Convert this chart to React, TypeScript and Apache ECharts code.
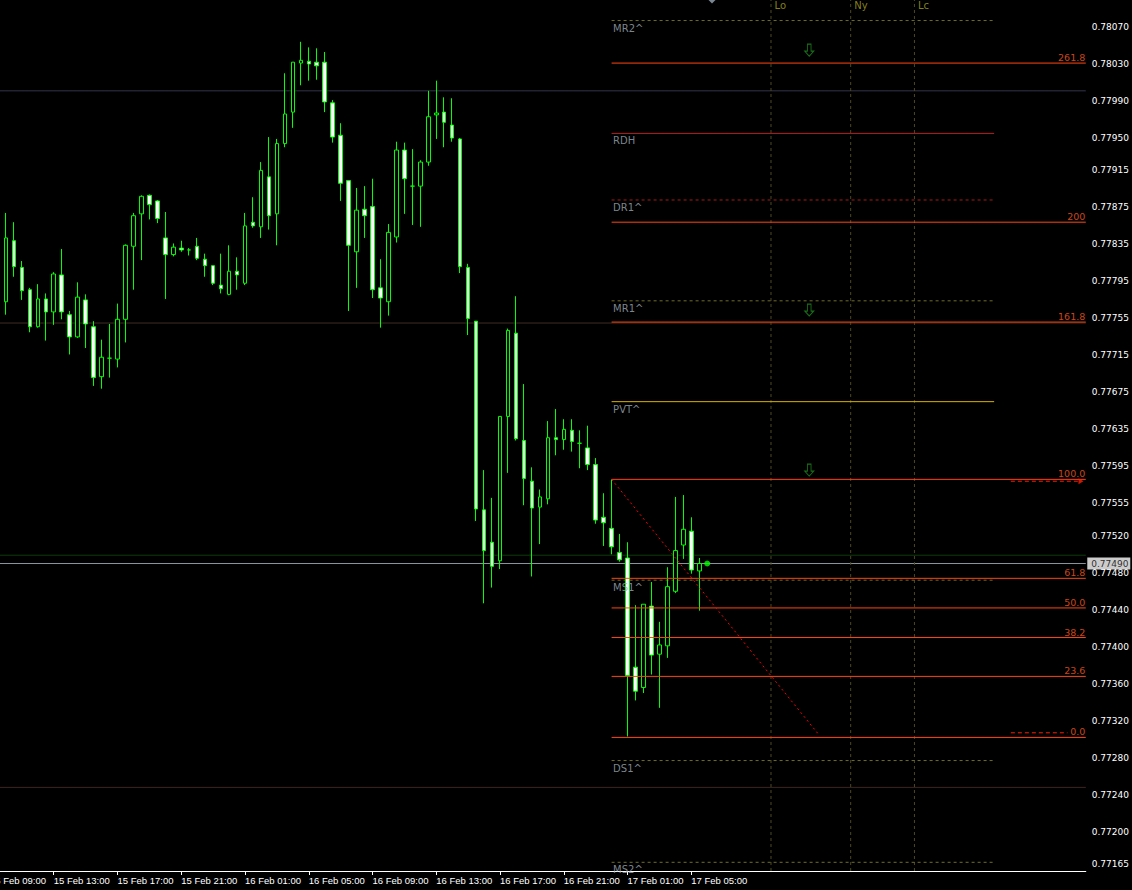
import React, { useEffect, useRef } from "react";
import * as echarts from "echarts";

// ---------- data ----------
const OPEN = [
  0.77773, 0.77839, 0.7781, 0.77786, 0.77746, 0.77776, 0.77762, 0.77802, 0.77759, 0.77735,
  0.77775, 0.77746, 0.77692, 0.77712, 0.77711, 0.77754, 0.77833, 0.77868, 0.77888, 0.77882,
  0.77842, 0.77824, 0.77831, 0.77829, 0.77833, 0.77819, 0.77812, 0.77791, 0.77781, 0.77806,
  0.77793, 0.77859, 0.77854, 0.77908, 0.77868, 0.77944, 0.77978, 0.78031, 0.78033, 0.78032,
  0.78032, 0.77988, 0.77953, 0.77904, 0.77827, 0.77873, 0.77876, 0.77788, 0.77773, 0.77843,
  0.77937, 0.77898, 0.77898, 0.77924, 0.77975, 0.77978, 0.77964, 0.77949, 0.7781, 0.77752,
  0.77548, 0.77513, 0.77493, 0.77649, 0.77739, 0.77623, 0.77579, 0.77551, 0.7756, 0.77626,
  0.77624, 0.77634, 0.7762, 0.77615, 0.77597, 0.7754, 0.77528, 0.77502, 0.77496, 0.77378,
  0.77356, 0.77444, 0.77392, 0.77401, 0.7746, 0.7751, 0.77525, 0.77482,
];
const CLOSE = [
  0.77842, 0.77811, 0.77785, 0.77746, 0.77776, 0.77762, 0.77803, 0.77762, 0.77735, 0.77778,
  0.77749, 0.77691, 0.77713, 0.77712, 0.77754, 0.77834, 0.77866, 0.77887, 0.77878, 0.77863,
  0.77824, 0.77832, 0.77829, 0.77829, 0.7782, 0.77812, 0.77793, 0.77787, 0.77806, 0.77802,
  0.77855, 0.77855, 0.77915, 0.77866, 0.77944, 0.77976, 0.78032, 0.78034, 0.7803, 0.78028,
  0.77989, 0.77951, 0.77901, 0.77834, 0.77872, 0.77866, 0.77786, 0.77777, 0.77848, 0.77937,
  0.77906, 0.77898, 0.77924, 0.77973, 0.77977, 0.77967, 0.7795, 0.77811, 0.77755, 0.77549,
  0.77504, 0.77487, 0.77649, 0.77742, 0.77625, 0.77582, 0.7755, 0.77562, 0.77626, 0.77624,
  0.77635, 0.77622, 0.7762, 0.77597, 0.77537, 0.77534, 0.77508, 0.77494, 0.77369, 0.77352,
  0.77446, 0.77391, 0.77402, 0.77465, 0.77504, 0.77527, 0.77483, 0.7749,
];
const LOW = [
  0.77759, 0.778, 0.77775, 0.7774, 0.77745, 0.77731, 0.77748, 0.77754, 0.77716, 0.77734,
  0.77723, 0.77682, 0.77679, 0.77691, 0.77702, 0.77729, 0.77786, 0.77818, 0.77862, 0.77858,
  0.77776, 0.77822, 0.77827, 0.77823, 0.77818, 0.778, 0.77791, 0.77782, 0.7778, 0.77786,
  0.77791, 0.77853, 0.77842, 0.77851, 0.77834, 0.7794, 0.77961, 0.78007, 0.78012, 0.78013,
  0.77978, 0.77945, 0.77882, 0.77763, 0.77788, 0.77842, 0.77777, 0.77745, 0.77758, 0.77837,
  0.77868, 0.77856, 0.77854, 0.7792, 0.77949, 0.7794, 0.77946, 0.77804, 0.77737, 0.77536,
  0.77447, 0.77464, 0.77484, 0.77588, 0.77623, 0.77553, 0.77476, 0.77511, 0.77554, 0.77607,
  0.77613, 0.77611, 0.77593, 0.77591, 0.77533, 0.77509, 0.775, 0.77492, 0.77303, 0.77342,
  0.7735, 0.7737, 0.77334, 0.77388, 0.77458, 0.77495, 0.77479, 0.77439,
];
const HIGH = [
  0.77869, 0.77859, 0.77817, 0.77788, 0.77792, 0.77782, 0.77805, 0.7783, 0.77763, 0.77794,
  0.77781, 0.77752, 0.77732, 0.77749, 0.77771, 0.77835, 0.77869, 0.77888, 0.77889, 0.77883,
  0.7787, 0.77836, 0.77839, 0.77831, 0.77842, 0.77825, 0.77812, 0.77825, 0.77834, 0.77821,
  0.77869, 0.77886, 0.77924, 0.77951, 0.77949, 0.7802, 0.78032, 0.78054, 0.78048, 0.78047,
  0.78043, 0.77991, 0.77966, 0.77904, 0.77896, 0.77898, 0.77906, 0.77819, 0.77857, 0.77946,
  0.77945, 0.77938, 0.77926, 0.78001, 0.78012, 0.77994, 0.77993, 0.7795, 0.77814, 0.77752,
  0.77591, 0.77561, 0.77649, 0.77744, 0.77779, 0.77684, 0.77594, 0.7757, 0.77644, 0.77657,
  0.77646, 0.77646, 0.77634, 0.77639, 0.77604, 0.77566, 0.77581, 0.77522, 0.77513, 0.77445,
  0.77446, 0.7747, 0.77427, 0.77486, 0.77562, 0.77564, 0.7754, 0.77496,
];

const X_TICK_LABELS = [
  "15 Feb 09:00", "15 Feb 13:00", "15 Feb 17:00", "15 Feb 21:00",
  "16 Feb 01:00", "16 Feb 05:00", "16 Feb 09:00", "16 Feb 13:00",
  "16 Feb 17:00", "16 Feb 21:00", "17 Feb 01:00", "17 Feb 05:00",
];
const Y_TICK_VALUES = [
  0.7807, 0.7803, 0.7799, 0.7795, 0.77915, 0.77875, 0.77835, 0.77795, 0.77755, 0.77715,
  0.77675, 0.77635, 0.77595, 0.77555, 0.7752, 0.7748, 0.7744, 0.774, 0.7736, 0.7732,
  0.7728, 0.7724, 0.772, 0.77165,
];
const Y_MIN = 0.771576;
const Y_MAX = 0.780992;
const CURRENT_PRICE = 0.7749;

// full-width horizontal levels
const LEVEL_PRICES = [0.78001, 0.7775, 0.77499, 0.7749, 0.77248];
// pivot levels
const PIVOT_NAMES = ["MR2^", "RDH", "DR1^", "MR1^", "PVT^", "MS1^", "DS1^", "MS2^"];
const PIVOT_PRICES = [0.78077, 0.77955, 0.77883, 0.77774, 0.77665, 0.77472, 0.77277, 0.77167];
// fibonacci levels
const FIB_LABELS = ["261.8", "200", "161.8", "100.0", "61.8", "50.0", "38.2", "23.6", "0.0"];
const FIB_PRICES = [0.78031, 0.77859, 0.77751, 0.77581, 0.77474, 0.77442, 0.7741, 0.77368, 0.77302];
const FIB_TREND = [0.77581, 0.77305];
const FIB_MARKS = [0.77579, 0.77307];
// sessions
const SESSION_NAMES = ["Lo", "Ny", "Lc"];
// signal arrows
const ARROW_PRICES = [0.78045, 0.77764, 0.77591];

// ---------- layout / style (not data) ----------
const SHIFT = 14;
const SLOT_COUNT = 138;
const LEAD_EMPTY = 2;
const PIVOT_START = 78.5;
const PIVOT_END = 126.5;
const SESSION_SLOTS = [98.5, 108.5, 116.5];
const ARROW_SLOT = 103.3;
const TREND_END = 104.5;
const MARK_START = 128.6;
const MARK_ENDS = [137.4, 135.7];
const DOT_SLOT = 90.5;
const DIAMOND_SLOT = 91.1;

const LEVEL_COLORS = ["#33334a", "#3e2c24", "#0e3c0e", "#8a96a0", "#3c2622"];
const PIVOT_STYLES = [
  { color: "#6e6e2a", type: [3, 3] },
  { color: "#b42222", type: "solid" },
  { color: "#a81a1a", type: [3, 3] },
  { color: "#6e6e2a", type: [3, 3] },
  { color: "#d8b000", type: "solid" },
  { color: "#6e6e2a", type: [3, 3] },
  { color: "#6e6e2a", type: [3, 3] },
  { color: "#6e6e2a", type: [3, 3] },
];
const FIB_COLOR = "#ff4510";
const FONT = "DejaVu Sans";

function makeCategories(): string[] {
  const out: string[] = [];
  for (let c = 0; c < SLOT_COUNT; c++) {
    const total = 9 * 60 + c * 30;
    const day = 15 + Math.floor(total / 1440);
    const mins = total % 1440;
    const hh = String(Math.floor(mins / 60)).padStart(2, "0");
    const mm = String(mins % 60).padStart(2, "0");
    out.push(`${day} Feb ${hh}:${mm}`);
  }
  return out;
}

export default function App() {
  const ref = useRef<HTMLDivElement>(null);
  useEffect(() => {
    document.body.style.margin = "0";
    document.body.style.background = "#000";
    document.body.style.overflow = "hidden";
    if (!ref.current) return;
    const chart = echarts.init(ref.current, undefined, { renderer: "svg" });
    const categories = makeCategories();
    const candleData: any[] = [];
    for (let i = 0; i < LEAD_EMPTY; i++) candleData.push("-");
    OPEN.forEach((o, i) => candleData.push([o, CLOSE[i], LOW[i], HIGH[i]]));

    const series: any[] = [];

    // full-width background lines
    LEVEL_PRICES.forEach((p, i) => {
      series.push({
        type: "line", xAxisIndex: 1, yAxisIndex: 0, z: 1, silent: true,
        symbol: "none", data: [[0, p], [SLOT_COUNT, p]],
        lineStyle: { color: LEVEL_COLORS[i], width: 1 },
      });
    });
    // session vertical lines
    SESSION_SLOTS.forEach((s) => {
      series.push({
        type: "line", xAxisIndex: 1, yAxisIndex: 0, z: 1, silent: true,
        symbol: "none", data: [[s, Y_MIN], [s, Y_MAX]],
        lineStyle: { color: "#4a4a22", width: 1, type: [3, 3] },
      });
    });
    // candles
    series.push({
      type: "candlestick", xAxisIndex: 0, yAxisIndex: 0, z: 3,
      barWidth: 4, data: candleData,
      itemStyle: {
        color: "#000000", color0: "#ffffff",
        borderColor: "#00ff00", borderColor0: "#00ff00", borderWidth: 1,
      },
    });
    // pivot segments
    PIVOT_PRICES.forEach((p, i) => {
      series.push({
        type: "line", xAxisIndex: 1, yAxisIndex: 0, z: 2, silent: true,
        symbol: "none", data: [[PIVOT_START, p], [PIVOT_END, p]],
        lineStyle: { color: PIVOT_STYLES[i].color, width: 1, type: PIVOT_STYLES[i].type },
      });
    });
    // fib levels
    FIB_PRICES.forEach((p) => {
      series.push({
        type: "line", xAxisIndex: 1, yAxisIndex: 0, z: 4, silent: true,
        symbol: "none", data: [[PIVOT_START, p], [SLOT_COUNT, p]],
        lineStyle: { color: FIB_COLOR, width: 1 },
      });
    });
    // fib trendline
    series.push({
      type: "line", xAxisIndex: 1, yAxisIndex: 0, z: 4, silent: true,
      symbol: "none", data: [[PIVOT_START, FIB_TREND[0]], [TREND_END, FIB_TREND[1]]],
      lineStyle: { color: "#ff0000", width: 1, type: [2, 3] },
    });
    // fib marks at right
    FIB_MARKS.forEach((p, i) => {
      series.push({
        type: "line", xAxisIndex: 1, yAxisIndex: 0, z: 4, silent: true,
        symbol: "none", showSymbol: false,
        data: [[MARK_START, p], [MARK_ENDS[i], p]],
        lineStyle: { color: "#ff2000", width: 1, type: [4, 3] },
      });
    });
    series.push({
      type: "scatter", xAxisIndex: 1, yAxisIndex: 0, z: 5, silent: true, clip: false,
      symbol: "triangle", symbolRotate: -90, symbolSize: [6, 5],
      itemStyle: { color: "#ff2000" },
      data: [[MARK_ENDS[0], FIB_MARKS[0]]],
    });
    // pivot labels
    series.push({
      type: "scatter", xAxisIndex: 1, yAxisIndex: 0, z: 5, silent: true, clip: false,
      symbolSize: 1, itemStyle: { color: "transparent" },
      data: PIVOT_PRICES.map((p, i) => ({ value: [PIVOT_START, p], name: PIVOT_NAMES[i] })),
      label: {
        show: true, formatter: "{b}", position: [2, 3], align: "left", verticalAlign: "top",
        color: "#9ea9b4", fontSize: 10, fontFamily: FONT,
      },
    });
    // fib labels
    series.push({
      type: "scatter", xAxisIndex: 1, yAxisIndex: 0, z: 5, silent: true, clip: false,
      symbolSize: 1, itemStyle: { color: "transparent" },
      data: FIB_PRICES.map((p, i) => ({ value: [SLOT_COUNT, p], name: FIB_LABELS[i] })),
      label: {
        show: true, formatter: "{b}", position: [0, 0], align: "right", verticalAlign: "bottom",
        color: "#ff5a20", fontSize: 9.5, fontFamily: FONT,
      },
    });
    // session labels
    series.push({
      type: "scatter", xAxisIndex: 1, yAxisIndex: 0, z: 5, silent: true, clip: false,
      symbolSize: 1, itemStyle: { color: "transparent" },
      data: SESSION_SLOTS.map((s, i) => ({ value: [s, Y_MAX], name: SESSION_NAMES[i] })),
      label: {
        show: true, formatter: "{b}", position: [4, 1], align: "left", verticalAlign: "top",
        color: "#a8a020", fontSize: 10, fontFamily: FONT,
      },
    });
    // arrows
    series.push({
      type: "scatter", xAxisIndex: 1, yAxisIndex: 0, z: 5, silent: true,
      symbol: "path://M3,0 L7,0 L7,7 L10,7 L5,12 L0,7 L3,7 Z", symbolSize: [9, 12],
      itemStyle: { color: "rgba(0,0,0,0)", borderColor: "#1e8c1e", borderWidth: 1 },
      data: ARROW_PRICES.map((p) => [ARROW_SLOT, p]),
    });
    // current price dot
    series.push({
      type: "scatter", xAxisIndex: 1, yAxisIndex: 0, z: 6, silent: true,
      symbolSize: 6, itemStyle: { color: "#00ff00" },
      data: [[DOT_SLOT, CURRENT_PRICE]],
    });
    // top diamond
    series.push({
      type: "scatter", xAxisIndex: 1, yAxisIndex: 0, z: 6, silent: true, clip: false,
      symbol: "diamond", symbolSize: 7, itemStyle: { color: "#9aa8b8" },
      data: [[DIAMOND_SLOT, Y_MAX]],
    });
    // current price label on axis
    series.push({
      type: "scatter", xAxisIndex: 1, yAxisIndex: 0, z: 10, silent: true, clip: false,
      symbolSize: 1, itemStyle: { color: "transparent" },
      data: [{ value: [SLOT_COUNT, CURRENT_PRICE], name: CURRENT_PRICE.toFixed(5) }],
      label: {
        show: true, formatter: "{b}", position: "right", distance: 1,
        backgroundColor: "#ffffff", color: "#000000", fontSize: 9, fontFamily: FONT,
        padding: [2, 4, 1, 4], width: 35,
      },
    });

    chart.setOption({
      animation: false,
      backgroundColor: "#000000",
      grid: { left: 0, top: 0, width: 1088 + SHIFT, height: 871, containLabel: false },
      xAxis: [
        {
          type: "category", data: categories, boundaryGap: true, position: "bottom",
          axisLine: { show: true, lineStyle: { color: "#ffffff", width: 1 } },
          axisTick: {
            show: true, alignWithLabel: true, length: 4, inside: false,
            lineStyle: { color: "#ffffff" },
            interval: (i: number, v: string) => X_TICK_LABELS.includes(v),
          },
          axisLabel: {
            show: true, color: "#ffffff", fontSize: 9.5, fontFamily: "Liberation Sans",
            align: "left", margin: 4,
            interval: (i: number, v: string) => X_TICK_LABELS.includes(v),
          },
          splitLine: { show: false },
        },
        { type: "value", min: 0, max: SLOT_COUNT, show: false, splitLine: { show: false } },
      ],
      yAxis: [
        {
          type: "value", position: "right", min: Y_MIN, max: Y_MAX, scale: true,
          axisLine: { show: true, lineStyle: { color: "#ffffff", width: 1 } },
          axisTick: {
            show: true, length: 4, inside: false, lineStyle: { color: "#ffffff" },
            customValues: Y_TICK_VALUES,
          },
          axisLabel: {
            show: true, color: "#ffffff", fontSize: 9, fontFamily: FONT, margin: 6,
            customValues: Y_TICK_VALUES,
            formatter: (v: number) => v.toFixed(5),
          },
          splitLine: { show: false },
        },
      ],
      series,
    });
    return () => chart.dispose();
  }, []);
  return (
    <div style={{ width: 1132, height: 890, overflow: "hidden", background: "#000" }}>
      <div
        ref={ref}
        style={{ width: 1132 + SHIFT, height: 890, marginLeft: -SHIFT, background: "#000" }}
      />
    </div>
  );
}
